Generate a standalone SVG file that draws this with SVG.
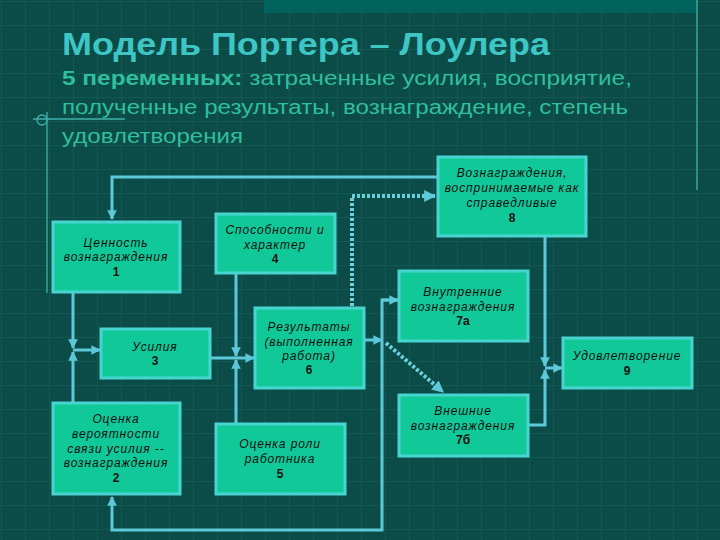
<svg xmlns="http://www.w3.org/2000/svg" width="720" height="540" viewBox="0 0 720 540">
<defs>
<pattern id="grid" x="1" y="1" width="24" height="24" patternUnits="userSpaceOnUse">
<path d="M0,0 H24 M0,0 V24" fill="none" stroke="#1d645e" stroke-width="1"/>
</pattern>
<marker id="arr" viewBox="0 0 10 10" refX="9" refY="5" markerWidth="3.2" markerHeight="3.2" orient="auto" markerUnits="strokeWidth">
<path d="M0,0 L10,5 L0,10 Z" fill="#5cc8d8"/>
</marker>
<marker id="arrd" viewBox="0 0 10 10" refX="9" refY="5" markerWidth="3" markerHeight="3" orient="auto" markerUnits="strokeWidth">
<path d="M0,0 L10,5 L0,10 Z" fill="#5cc8d8"/>
</marker>
</defs>
<style>
.node rect{fill:#10c898;stroke:#48d4d0;stroke-width:3}
.node text{font-family:"Liberation Sans",Arial,sans-serif;font-style:italic;font-size:12px;letter-spacing:0.9px;fill:#111;text-anchor:middle}
.node text.n{font-style:normal;font-weight:bold;letter-spacing:0}
.c{fill:none;stroke:#5cc8d8;stroke-width:3}
.d{fill:none;stroke:#6cd0dc;stroke-width:4;stroke-dasharray:3 2}
.deco{fill:none;stroke:#3fb0a8;stroke-width:1.3}
</style>
<rect width="720" height="540" fill="#0b4c48"/>
<rect width="720" height="540" fill="url(#grid)"/>
<rect x="264" y="0" width="433" height="13" fill="#00625c"/>
<line class="deco" x1="697" y1="0" x2="697" y2="190"/>
<line class="deco" x1="33" y1="119" x2="125" y2="119"/>
<line class="deco" x1="47" y1="112" x2="47" y2="293"/>
<circle class="deco" cx="42" cy="120" r="5"/>

<text x="62" y="55" font-family="Liberation Sans,Arial,sans-serif" font-weight="bold" font-size="31" fill="#3ec6c4" textLength="488" lengthAdjust="spacingAndGlyphs">Модель Портера – Лоулера</text>
<g font-family="Liberation Sans,Arial,sans-serif" font-size="20" fill="#2fbf9c">
<text x="62" y="85" textLength="570" lengthAdjust="spacingAndGlyphs"><tspan font-weight="bold">5 переменных:</tspan> затраченные усилия, восприятие,</text>
<text x="62" y="114" textLength="566" lengthAdjust="spacingAndGlyphs">полученные результаты, вознаграждение, степень</text>
<text x="62" y="143" textLength="181" lengthAdjust="spacingAndGlyphs">удовлетворения</text>
</g>

<g id="connectors">
<path class="c" d="M438,177 H112 V219" marker-end="url(#arr)"/>
<path class="d" d="M352,306 V196 H435" marker-end="url(#arrd)"/>
<path class="c" d="M73,292 V348" marker-end="url(#arr)"/>
<path class="c" d="M73,403 V352" marker-end="url(#arr)"/>
<path class="c" d="M73,350 H100" marker-end="url(#arr)"/>
<path class="c" d="M236,273 V356" marker-end="url(#arr)"/>
<path class="c" d="M236,424 V360" marker-end="url(#arr)"/>
<path class="c" d="M210,358 H254" marker-end="url(#arr)"/>
<path class="c" d="M364,340 H382" marker-end="url(#arr)"/>
<path class="c" d="M398,300 H382 V530 H112 V497" marker-end="url(#arr)"/>
<path class="c" d="M382,300 H398" marker-end="url(#arr)"/>
<path class="d" d="M386,343 L443,392" marker-end="url(#arrd)"/>
<path class="c" d="M545,236 V366" marker-end="url(#arr)"/>
<path class="c" d="M528,425 H545 V370" marker-end="url(#arr)"/>
<path class="c" d="M545,368 H562" marker-end="url(#arr)"/>
</g>

<g id="node1" class="node"><rect x="53" y="222" width="127" height="70"/>
<text x="116" y="247">Ценность</text><text x="116" y="261">вознаграждения</text><text class="n" x="116" y="276">1</text></g>
<g id="node4" class="node"><rect x="216" y="214" width="119" height="59"/>
<text x="275" y="234">Способности и</text><text x="275" y="249">характер</text><text class="n" x="275" y="263">4</text></g>
<g id="node8" class="node"><rect x="438" y="157" width="148" height="79"/>
<text x="512" y="177">Вознаграждения,</text><text x="512" y="192">воспринимаемые как</text><text x="512" y="207">справедливые</text><text class="n" x="512" y="222">8</text></g>
<g id="node3" class="node"><rect x="101" y="329" width="109" height="49"/>
<text x="155" y="351">Усилия</text><text class="n" x="155" y="365">3</text></g>
<g id="node6" class="node"><rect x="255" y="308" width="109" height="80"/>
<text x="309" y="331">Результаты</text><text x="309" y="346">(выполненная</text><text x="309" y="360">работа)</text><text class="n" x="309" y="374">6</text></g>
<g id="node7a" class="node"><rect x="399" y="271" width="129" height="70"/>
<text x="463" y="296">Внутренние</text><text x="463" y="311">вознаграждения</text><text class="n" x="463" y="325">7а</text></g>
<g id="node9" class="node"><rect x="563" y="338" width="129" height="50"/>
<text x="627" y="360">Удовлетворение</text><text class="n" x="627" y="375">9</text></g>
<g id="node7b" class="node"><rect x="399" y="395" width="129" height="61"/>
<text x="463" y="415">Внешние</text><text x="463" y="430">вознаграждения</text><text class="n" x="463" y="444">7б</text></g>
<g id="node2" class="node"><rect x="53" y="403" width="127" height="91"/>
<text x="116" y="423">Оценка</text><text x="116" y="438">вероятности</text><text x="116" y="453">связи усилия --</text><text x="116" y="467">вознаграждения</text><text class="n" x="116" y="482">2</text></g>
<g id="node5" class="node"><rect x="216" y="424" width="129" height="70"/>
<text x="280" y="448">Оценка роли</text><text x="280" y="463">работника</text><text class="n" x="280" y="478">5</text></g>
</svg>
